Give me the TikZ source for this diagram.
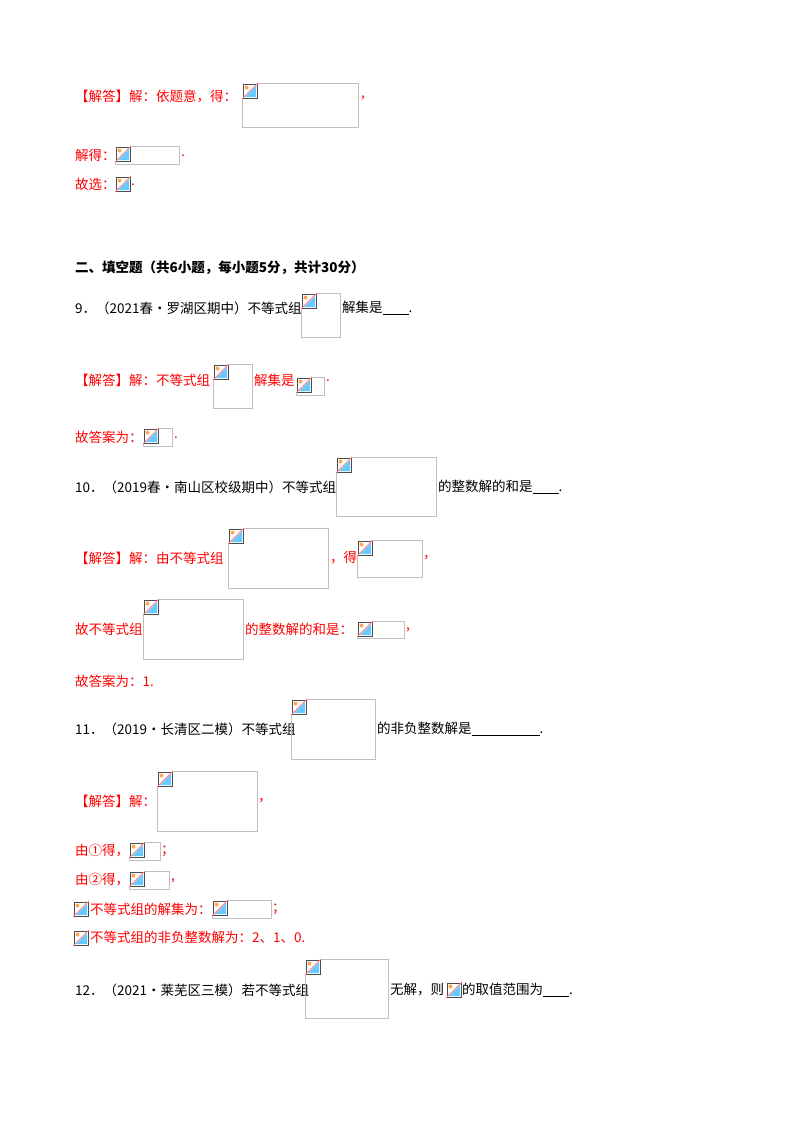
\documentclass[tikz,border=0pt]{standalone}
\usepackage{fontspec}
\setmainfont{Liberation Serif}
\newfontfamily\cjk{Noto Sans CJK SC}
\begin{document}
\begin{tikzpicture}[x=1pt,y=-1pt,
  t/.style={anchor=west,inner sep=0pt,font=\cjk\fontsize{13.5}{16}\selectfont},
  r/.style={t,text=red},
  bx/.style={draw=black!25,line width=0.8pt}]
\newcommand\myicon[2]{%
  \begin{scope}[shift={(#1,#2)}]
  \fill[white] (0,0) rectangle (16,16);
  \fill[blue!35!cyan!60] (3,14) -- (14,3) -- (14,14) -- cycle;
  \draw[black!70,line width=0.9pt] (1,1) rectangle (15,15);
  \fill[orange!70] (4.5,4.5) circle (2);
  \draw[red!50,line width=0.8pt] (0,16) -- (16,0);
  \end{scope}}
\newcommand\mybox[4]{\draw[bx] (#1,#2) rectangle (#3,#4);\myicon{#1}{#2}}
\path[use as bounding box] (0,0) rectangle (800,1132);
\fill[white] (0,0) rectangle (800,1132);
% 1
\node[r] (a1) at (75,96) {【解答】解：依题意，得：};
\mybox{242}{83}{358}{127}
\node[r] (a1b) at (361,98) {,};
\node[r] (a2) at (75,155) {解得：};
\mybox{115}{146}{179}{164}
\node[r] (a2b) at (181,156) {.};
\node[r] (a3) at (75,184) {故选：};
\myicon{115}{176}
\node[r] (a3b) at (131,185) {.};
% heading
\node[t,font=\cjk\bfseries\fontsize{13.5}{16}\selectfont] (h) at (75,268) {二、填空题（共6小题，每小题5分，共计30分）};
% 9
\node[t] (q9) at (75,308) {9．（2021春•罗湖区期中）不等式组};
\mybox{301}{293}{340}{337}
\node[t] (q9b) at (342,308) {解集是\underline{\hspace{26pt}}.};
\node[r] (s9) at (75,380) {【解答】解：不等式组};
\mybox{213}{364}{252}{408}
\node[r] (s9b) at (254,380) {解集是};
\mybox{296}{377}{324}{395}
\node[r] (s9c) at (326,381) {.};
\node[r] (s9d) at (75,437) {故答案为：};
\mybox{143}{428}{172}{446}
\node[r] (s9e) at (174,438) {.};
% 10
\node[t] (q10) at (75,487) {10．（2019春•南山区校级期中）不等式组};
\mybox{336}{457}{436}{516}
\node[t] (q10b) at (438,487) {的整数解的和是\underline{\hspace{26pt}}.};
\node[r] (s10) at (75,558) {【解答】解：由不等式组};
\mybox{228}{528}{328}{588}
\node[r] (s10b) at (330,558) {，得};
\mybox{357}{540}{422}{577}
\node[r] (s10c) at (423,558) {，};
\node[r] (s10d) at (75,629) {故不等式组};
\mybox{143}{599}{243}{659}
\node[r] (s10e) at (245,629) {的整数解的和是：};
\mybox{357}{621}{404}{638}
\node[r] (s10f) at (406,630) {,};
\node[r] (s10g) at (75,681) {故答案为：1.};
% 11
\node[t] (q11) at (75,729) {11．（2019•长清区二模）不等式组};
\mybox{291}{699}{375}{759}
\node[t] (q11b) at (377,729) {的非负整数解是\underline{\hspace{68pt}}.};
\node[r] (s11) at (75,801) {【解答】解：};
\mybox{157}{771}{257}{831}
\node[r] (s11b) at (258,801) {，};
\node[r] (s11c) at (75,851) {由①得，};
\mybox{129}{842}{160}{860}
\node[r] (s11d) at (161,851) {；};
\node[r] (s11e) at (75,880) {由②得，};
\mybox{129}{871}{169}{889}
\node[r] (s11f) at (171,881) {,};
\myicon{73}{901}
\node[r] (s11g) at (90,909) {不等式组的解集为：};
\mybox{212}{900}{271}{918}
\node[r] (s11h) at (272,909) {；};
\myicon{73}{930}
\node[r] (s11i) at (90,937) {不等式组的非负整数解为：2、1、0.};
% 12
\node[t] (q12) at (75,990) {12．（2021•莱芜区三模）若不等式组};
\mybox{305}{959}{388}{1018}
\node[t] (q12b) at (390,990) {无解，则};
\myicon{446}{982}
\node[t] (q12c) at (462,990) {的取值范围为\underline{\hspace{26pt}}.};
\end{tikzpicture}
\end{document}
